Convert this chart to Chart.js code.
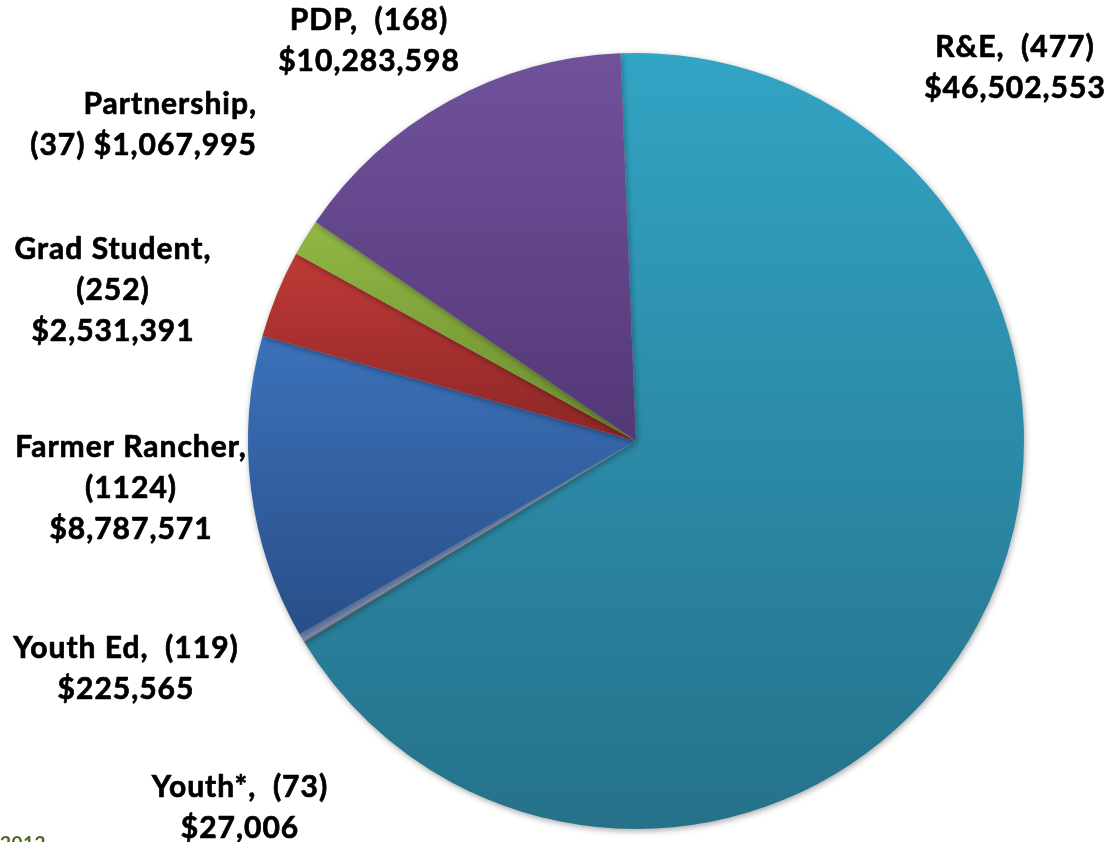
<!DOCTYPE html>
<html>
<head>
<meta charset="utf-8">
<script src="https://cdn.jsdelivr.net/npm/chart.js@4.4.1/dist/chart.umd.min.js"></script>
<style>
  html, body { margin: 0; padding: 0; background: #fff; }
  #wrap { position: relative; width: 1107px; height: 842px; overflow: hidden; }
</style>
</head>
<body>
<div id="wrap"><canvas id="grantChart" width="1107" height="842"></canvas></div>
<script>
// Data
const categories = ['R&E', 'Youth*', 'Youth Ed', 'Farmer Rancher', 'Grad Student', 'Partnership', 'PDP'];
const projectCounts = [477, 73, 119, 1124, 252, 37, 168];
const fundingAmounts = [46502553, 27006, 225565, 8787571, 2531391, 1067995, 10283598];
const footnoteText = '2012';

// slice colours, top -> bottom of each slice
const topColors = ['#32a4c4', '#ec8a3a', '#8aa0c8', '#3b72ba', '#bf3a37', '#92b846', '#70529b'];
const bottomColors = ['#25718a', '#c8651d', '#7088b4', '#294e88', '#8c2626', '#6a8b2d', '#533877'];

// label blocks: which parts go on which line, and where the block sits
// parts: 0 = "Name,", 1 = "(count)", 2 = "$amount"
const labelLayout = [
  { x: 1015, y: 47, lines: [[0, 1], [2]] },
  { x: 240, y: 787, lines: [[0, 1], [2]] },
  { x: 126, y: 648, lines: [[0, 1], [2]] },
  { x: 131, y: 447, lines: [[0], [1], [2]] },
  { x: 113, y: 249, lines: [[0], [1], [2]] },
  { x: 257, y: 104, lines: [[0], [1, 2]], sep: ' ', align: 'right' },
  { x: 369, y: 20, lines: [[0, 1], [2]] }
];

const ROTATION = -2.3;
const total = fundingAmounts.reduce((a, b) => a + b, 0);

function sliceGradient(ctx) {
  const chart = ctx.chart;
  const area = chart.chartArea;
  if (!area) return topColors[ctx.dataIndex];
  const i = ctx.dataIndex;
  const cx = (area.left + area.right) / 2;
  const cy = (area.top + area.bottom) / 2;
  const r = Math.min(area.right - area.left, area.bottom - area.top) / 2;
  let before = 0;
  for (let k = 0; k < i; k++) before += fundingAmounts[k];
  const a0 = -Math.PI / 2 + ROTATION * Math.PI / 180 + before / total * 2 * Math.PI;
  const a1 = a0 + fundingAmounts[i] / total * 2 * Math.PI;
  const ys = [cy, cy + r * Math.sin(a0), cy + r * Math.sin(a1)];
  for (const m of [-Math.PI / 2, Math.PI / 2, 3 * Math.PI / 2]) {
    if (m > a0 && m < a1) ys.push(cy + r * Math.sin(m));
  }
  const y0 = Math.min(...ys), y1 = Math.max(...ys);
  const g = chart.ctx.createLinearGradient(0, y0, 0, Math.max(y1, y0 + 1));
  g.addColorStop(0, topColors[i]);
  g.addColorStop(1, bottomColors[i]);
  return g;
}

const pieShadow = {
  id: 'pieShadow',
  beforeDatasetsDraw(chart) {
    const c = chart.ctx;
    c.save();
    c.shadowColor = 'rgba(0,0,0,0.35)';
    c.shadowBlur = 6;
    c.shadowOffsetX = 1;
    c.shadowOffsetY = 2;
  },
  afterDatasetsDraw(chart) {
    chart.ctx.restore();
  }
};

const sliceLabels = {
  id: 'sliceLabels',
  afterDraw(chart) {
    const c = chart.ctx;
    c.save();
    c.fillStyle = '#000';
    c.strokeStyle = '#000';
    c.lineWidth = 0.7;
    c.lineJoin = 'round';
    c.font = 'bold 30px Lato';
    c.letterSpacing = '1px';
    c.textBaseline = 'middle';
    labelLayout.forEach((lab, i) => {
      const parts = [
        categories[i] + ',',
        '(' + projectCounts[i] + ')',
        '$' + fundingAmounts[i].toLocaleString('en-US')
      ];
      c.textAlign = lab.align || 'center';
      lab.lines.forEach((idx, n) => {
        const txt = idx.map(p => parts[p]).join(lab.sep || '  ');
        c.fillText(txt, lab.x, lab.y + n * 41);
        c.strokeText(txt, lab.x, lab.y + n * 41);
      });
    });
    // footnote, cut off at the bottom edge
    c.letterSpacing = '0.5px';
    c.fillStyle = '#4f6b22';
    c.font = 'bold 19px Lato';
    c.textAlign = 'left';
    c.textBaseline = 'alphabetic';
    c.fillText(footnoteText, 0, 850);
    c.restore();
  }
};

new Chart(document.getElementById('grantChart'), {
  type: 'pie',
  data: {
    labels: categories,
    datasets: [{
      data: fundingAmounts,
      backgroundColor: sliceGradient,
      borderWidth: 0,
      hoverOffset: 0
    }]
  },
  options: {
    responsive: false,
    animation: false,
    rotation: ROTATION,
    layout: { padding: { left: 248, right: 83, top: 53, bottom: 13 } },
    plugins: { legend: { display: false }, tooltip: { enabled: false } }
  },
  plugins: [pieShadow, sliceLabels]
});
</script>
</body>
</html>
